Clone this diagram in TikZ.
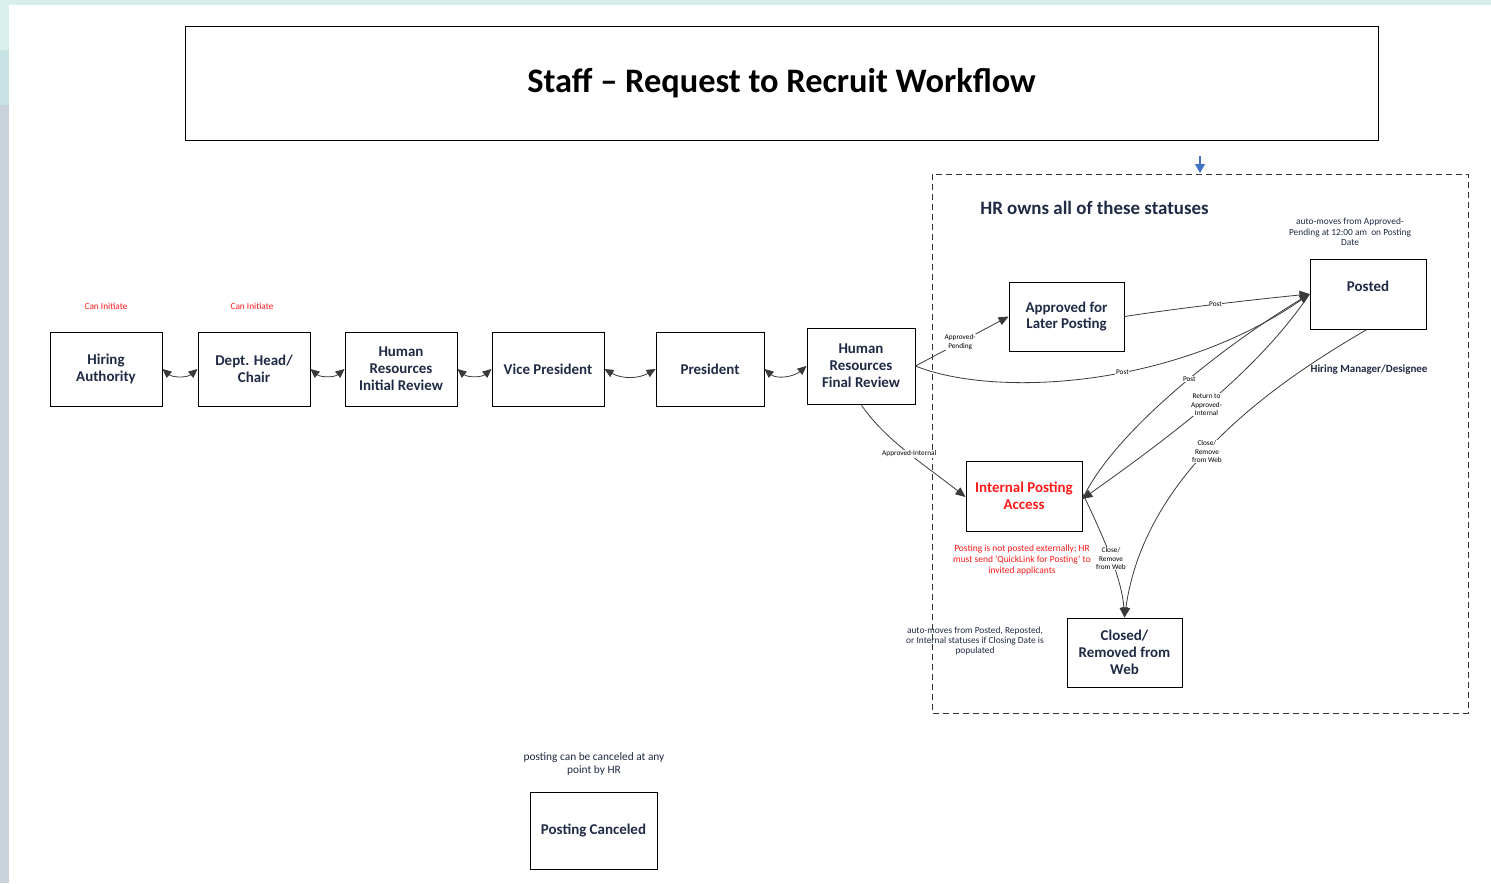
\documentclass[tikz,border=0pt]{standalone}
\usepackage{fontspec}
\setmainfont{Carlito}
\usetikzlibrary{arrows.meta}
\definecolor{navy}{HTML}{1F2A44}
\definecolor{redtxt}{HTML}{FF1A1A}
\definecolor{conn}{HTML}{3A3A3A}
\definecolor{tealbg}{HTML}{D9EFEC}
\definecolor{tealbg2}{HTML}{C6E2E2}
\definecolor{graybg}{HTML}{C9D1DB}
\definecolor{bluearr}{HTML}{4472C4}
\tikzset{
  box/.style={draw=black, line width=0.9bp, align=center, text=navy,
    font=\bfseries\fontsize{15}{17}\selectfont, inner sep=1bp,
    minimum width=112bp, minimum height=74bp},
  tip/.style={-{Triangle[length=10bp,width=8.5bp]}},
  conline/.style={draw=conn, line width=0.8bp},
  biarr/.style={conline, {Triangle[length=9bp,width=8bp]}-{Triangle[length=9bp,width=8bp]}},
  onearr/.style={conline, tip},
  lbl/.style={fill=white, inner sep=0.6bp, align=center, text=black,
    font=\fontsize{7.3}{8.5}\selectfont},
  note/.style={align=center, text=navy, font=\fontsize{9.4}{10.3}\selectfont},
  rednote/.style={align=center, text=redtxt, font=\fontsize{9.5}{10.7}\selectfont},
}
\begin{document}
\begin{tikzpicture}[x=1bp,y=-1bp]
\useasboundingbox (0,0) rectangle (1491,883);
% screenshot background strips
\fill[white] (0,0) rectangle (1491,883);
\fill[tealbg] (0,0) rectangle (1491,5);
\fill[tealbg] (0,0) rectangle (9,50);
\fill[tealbg2] (0,50) rectangle (9,105);
\fill[graybg] (0,105) rectangle (9,883);

% title
\node[draw=black, line width=0.9bp, minimum width=1193bp, minimum height=114bp,
  font=\bfseries\fontsize{34.5}{38}\selectfont, text=black] (title) at (781.5,83)
  {Staff -- Request to Recruit Workflow};

% HR dashed region
\draw[dashed, line width=0.9bp, draw=black!80, dash pattern=on 6bp off 4bp] (932,174) rectangle (1468,713);
\coordinate (bluetop) at (1200,156);
\coordinate (bluebot) at (1200,173);
\draw[bluearr, line width=1.2bp, -{Triangle[length=9bp,width=10bp]}] (bluetop) -- (bluebot);
\node[font=\bfseries\fontsize{19}{22}\selectfont, text=navy] (hrowns) at (1094.5,208) {HR owns all of these statuses};

% row nodes
\node[box] (ha) at (106,369) {Hiring\\Authority};
\node[box] (dh) at (254,369) {Dept. Head/\\Chair};
\node[box] (hri) at (401,369) {Human\\Resources\\Initial Review};
\node[box] (vp) at (548,369) {Vice President};
\node[box, minimum width=108bp] (pres) at (710,369) {President};
\node[box, minimum width=108bp, minimum height=76bp] (hrf) at (861,366) {Human\\Resources\\Final Review};

\node[text=redtxt, font=\fontsize{9.3}{10}\selectfont] (ci1) at (106,306) {Can Initiate};
\node[text=redtxt, font=\fontsize{9.3}{10}\selectfont] (ci2) at (252,306) {Can Initiate};

% HR status nodes
\node[box, minimum width=115bp, minimum height=69bp] (appr) at (1066.5,316.5) {Approved for\\Later Posting};
\node[box, minimum width=116bp, minimum height=70bp] (posted) at (1368,294) {};
\node[text=navy, font=\bfseries\fontsize{15}{17}\selectfont] (postedtxt) at (1368,286) {Posted};
\node[box, minimum width=116bp, minimum height=70bp, text=redtxt] (ipa) at (1024,496) {Internal Posting\\Access};
\node[box, minimum width=115bp, minimum height=69bp] (closed) at (1124.5,652.5) {Closed/\\Removed from\\Web};
\node[box, minimum width=127bp, minimum height=77bp] (pc) at (593.5,830.5) {Posting Canceled};

% notes
\node[note] (n1) at (1350,232) {auto-moves from Approved-\\Pending at 12:00 am\ \ on Posting\\Date};
\node[rednote] (n2) at (1022,560) {Posting is not posted externally; HR\\must send `QuickLink for Posting' to\\invited applicants};
\node[note] (n3) at (975,641) {auto-moves from Posted, Reposted,\\or Internal statuses if Closing Date is\\populated};
\node[align=center, text=navy, font=\fontsize{11.4}{12.5}\selectfont] (n4) at (594,764) {posting can be canceled at any\\point by HR};
\node[text=navy, font=\bfseries\fontsize{11}{12}\selectfont] (hmd) at (1369,370) {Hiring Manager/Designee};

% row connectors
\draw[biarr] (ha.east) to[out=-40,in=-140] (dh.west);
\draw[biarr] (dh.east) to[out=-40,in=-140] (hri.west);
\draw[biarr] (hri.east) to[out=-40,in=-140] (vp.west);
\draw[biarr] (vp.east) to[out=-30,in=-150] (pres.west);
\draw[biarr] (pres.east) to[out=-40,in=-140] (hrf.west);

% HR connectors
\draw[onearr] (hrf.east) -- node[lbl, pos=0.48] {Approved-\\Pending} (appr.west);
\draw[onearr] (hrf.east) .. controls (995,398) and (1175,388) .. node[lbl, pos=0.57] {Post} (posted.west);
\draw[onearr] (appr.east) .. controls (1180,308) and (1250,300) .. node[lbl, pos=0.5] {Post} (posted.west);
\draw[onearr] (hrf.south) .. controls (885,440) and (925,465) .. node[lbl, pos=0.52] {Approved-Internal} ([yshift=-1bp]ipa.west);
\coordinate (ipain) at ([yshift=-3bp]ipa.east);
\draw[onearr] (ipain) .. controls (1115,430) and (1225,345) .. node[lbl, pos=0.55] {Post} (posted.west);
\draw[onearr] (posted.west) .. controls (1255,375) and (1165,440) .. node[lbl, pos=0.5] {Return to\\Approved-\\Internal} (ipain);
\draw[onearr] ([yshift=3bp]ipa.east) .. controls (1105,540) and (1122,580) .. node[lbl, pos=0.5] {Close/\\Remove\\from Web} (closed.north);
\draw[onearr] ([xshift=-1bp]posted.south) .. controls (1280,380) and (1145,470) .. node[lbl, pos=0.55] {Close/\\Remove\\from Web} (closed.north);
\end{tikzpicture}
\end{document}
